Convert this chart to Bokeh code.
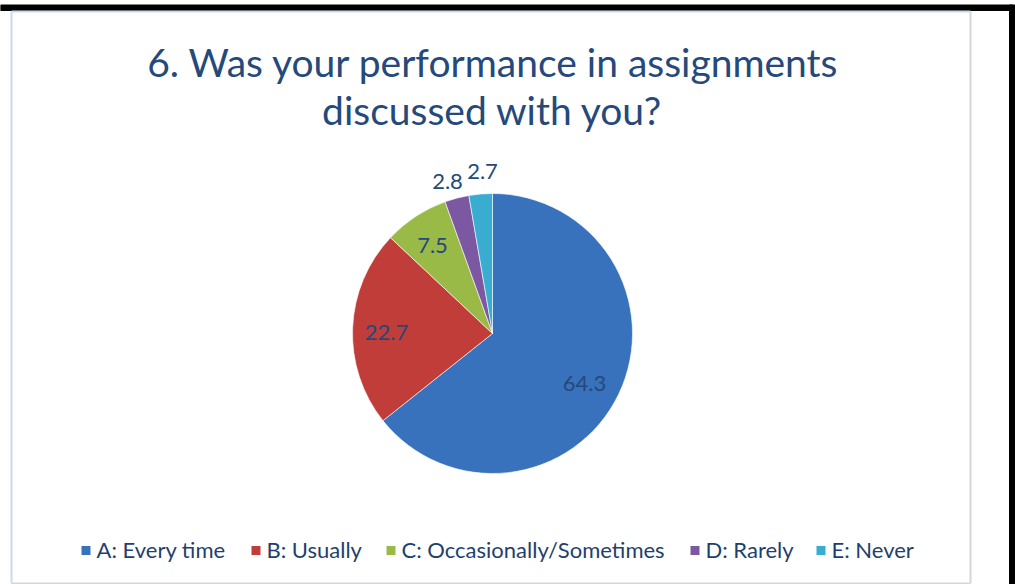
import math
from bokeh.plotting import figure
from bokeh.models import Range1d, ColumnDataSource
from bokeh.core.properties import value
from bokeh.embed import file_html
from bokeh.resources import INLINE

# ---- data ----
title_lines = ["6. Was your performance in assignments", "discussed with you?"]
categories = ["A: Every time", "B: Usually", "C: Occasionally/Sometimes", "D: Rarely", "E: Never"]
values = [64.3, 22.7, 7.5, 2.8, 2.7]
labels = ["64.3", "22.7", "7.5", "2.8", "2.7"]
colors = ["#3872bc", "#c03d3a", "#9aba48", "#7b58a1", "#39add0"]

W, H = 1015, 584
FONT = "Lato"
TXT = "#24497a"

p = figure(width=W, height=H, output_backend="svg", toolbar_location=None,
           x_range=Range1d(0, W), y_range=Range1d(0, H),
           min_border=0, outline_line_color=None)
p.axis.visible = False
p.grid.visible = False
p.background_fill_color = "white"
p.border_fill_color = "white"


def Y(s):
    return H - s


# decorations: black bars and chart frame
p.quad(left=[0], right=[1012], bottom=[Y(10)], top=[Y(4.5)], color="black")
p.quad(left=[1009], right=[1015], bottom=[Y(584)], top=[Y(4.5)], color="black")
p.segment(x0=[11], y0=[Y(11)], x1=[970], y1=[Y(11)], line_color="#c9dbf0", line_width=2)
p.segment(x0=[11], y0=[Y(11)], x1=[11], y1=[Y(583)], line_color="#c9dbf0", line_width=2)
p.segment(x0=[970], y0=[Y(11)], x1=[970], y1=[Y(583)], line_color="#d6d6d6", line_width=2)
p.segment(x0=[11], y0=[Y(583)], x1=[970], y1=[Y(583)], line_color="#d6d6d6", line_width=2)

# title
p.text(x=[493, 492], y=[Y(61), Y(109)], text=title_lines, text_align="center",
       text_baseline="middle", text_font=value(FONT), text_font_size="39px",
       text_color="#24497a")

# pie
cx, cy, r = 492, Y(333), 140
total = sum(values)
starts, ends = [], []
cum = 0.0
for v in values:
    starts.append(math.pi / 2 - 2 * math.pi * cum / total)
    cum += v
    ends.append(math.pi / 2 - 2 * math.pi * cum / total)
src = ColumnDataSource(dict(start=starts, end=ends, color=colors, cat=categories))
p.wedge(x=cx, y=cy, radius=r, start_angle="start", end_angle="end", direction="clock",
        fill_color="color", line_color="white", line_width=0.6, source=src)

# data labels
lx = [584, 386, 432, 447, 482]
ly = [383, 332, 245, 181, 171]
p.text(x=lx, y=[Y(v) for v in ly], text=labels, text_align="center",
       text_baseline="middle", text_font=value(FONT), text_font_size="22px",
       text_color=TXT)

# legend
sq_x = [81, 251, 386, 690, 816]
p.rect(x=[x + 4.5 for x in sq_x], y=[Y(550)] * 5, width=9, height=9,
       fill_color=colors, line_color=None)
p.text(x=[x + 15 for x in sq_x], y=[Y(549)] * 5, text=categories, text_align="left",
       text_baseline="middle", text_font=value(FONT), text_font_size="22px",
       text_color="#1f3f6e")

open("out.html", "w").write(file_html(p, INLINE))
